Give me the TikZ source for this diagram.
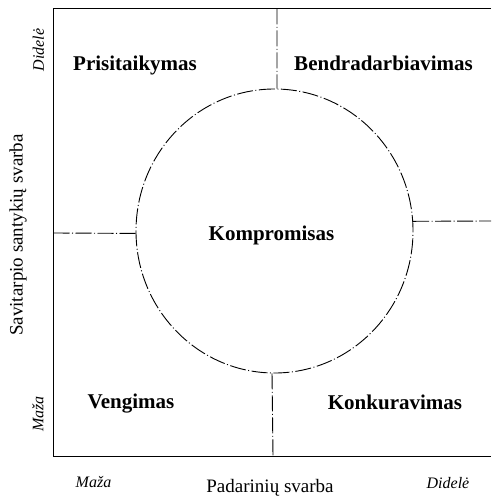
\documentclass[tikz,border=0pt]{standalone}
\usepackage{fontspec}
\setmainfont{Liberation Serif}
\usetikzlibrary{shapes.geometric}
\begin{document}
\begin{tikzpicture}[x=1pt,y=-1pt,
  frame/.style={line width=1.6pt},
  dashline/.style={line width=0.9pt,dash pattern=on 16pt off 2.5pt on 1pt off 2.5pt},
  quad/.style={font=\bfseries\fontsize{21}{24}\selectfont, inner sep=0pt, anchor=base},
  axis/.style={font=\fontsize{19}{22}\selectfont, inner sep=0pt},
  tick/.style={font=\itshape\fontsize{16}{19}\selectfont, inner sep=0pt}]
\useasboundingbox (0,0) rectangle (491,500);
\coordinate (tl) at (53.5,8.5);
\coordinate (tr) at (491,8.5);
\coordinate (bl) at (53.5,456.5);
\coordinate (br) at (491,456.5);
\draw[frame] (tr) -- (tl) -- (bl) -- (br);
\node[draw, dashline, ellipse, minimum width=277pt, minimum height=284pt, inner sep=0pt] (c) at (274.5,231) {};
\coordinate (topT) at (277,8.5);
\coordinate (botB) at (273,456.5);
\coordinate (leftL) at (53.5,233);
\coordinate (rightR) at (491,221);
\draw[dashline] (topT) -- (c.89);
\draw[dashline] (c.269.4) -- (botB);
\draw[dashline] (leftL) -- (c.181);
\draw[dashline] (c.4) -- (rightR);
\node[quad] (p) at (135,71) {Prisitaikymas};
\node[quad] (b) at (383.5,71) {Bendradarbiavimas};
\node[quad] (k) at (271.5,240) {Kompromisas};
\node[quad] (v) at (131,408) {Vengimas};
\node[quad] (kk) at (395,409) {Konkuravimas};
\node[axis, rotate=90] (ya) at (18,235) {Savitarpio santykių svarba};
\node[axis, anchor=base] (xa) at (270,492) {Padarinių svarba};
\node[tick, rotate=90] (yd) at (38.5,50) {Didelė};
\node[tick, rotate=90] (ym) at (38,414) {Maža};
\node[tick] (xm) at (93.5,482) {Maža};
\node[tick] (xd) at (448,483) {Didelė};
\end{tikzpicture}
\end{document}
